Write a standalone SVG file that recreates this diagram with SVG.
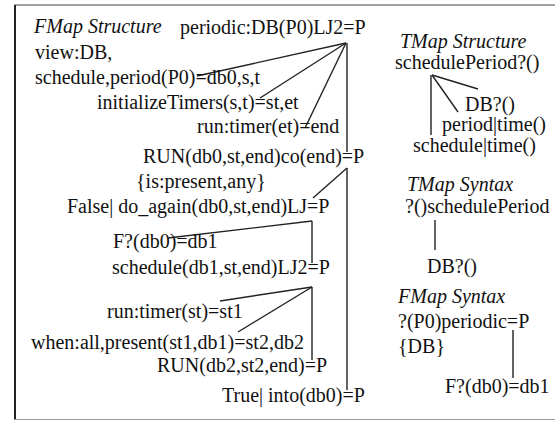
<svg xmlns="http://www.w3.org/2000/svg" width="555" height="421" viewBox="0 0 555 421">
  <style>
    .title { font-style: italic; }
    .link { stroke: #222; stroke-width: 1.4; fill: none; }
  </style>
  <rect x="0" y="0" width="555" height="421" fill="#fff"/>

  <!-- frame -->
  <g id="frame">
    <line x1="14.5" y1="5" x2="555" y2="5" stroke="#444" stroke-width="1.2"/>
    <line x1="15" y1="5" x2="15" y2="419.5" stroke="#222" stroke-width="2"/>
    <line x1="14.5" y1="419.5" x2="555" y2="419.5" stroke="#999" stroke-width="1.2"/>
  </g>

  <!-- connectors -->
  <g id="connectors">
    <!-- FMap structure tree -->
    <path class="link" d="M346 43 L197 76"/>
    <path class="link" d="M346 43 L260 98"/>
    <path class="link" d="M346 43 L305 128"/>
    <path class="link" d="M347 43 L347 152"/>
    <path class="link" d="M347 168 L313 198"/>
    <path class="link" d="M347 168 L347 390"/>
    <path class="link" d="M312 221 L168 238"/>
    <path class="link" d="M312 221 L312 263"/>
    <path class="link" d="M312 287 L220 301"/>
    <path class="link" d="M312 287 L238 332"/>
    <path class="link" d="M312 287 L312 360"/>
    <!-- TMap structure tree -->
    <path class="link" d="M432 75 L478 89"/>
    <path class="link" d="M432 75 L458 112"/>
    <path class="link" d="M431 75 L431 135"/>
    <!-- TMap syntax -->
    <path class="link" d="M435 220 L435 250"/>
    <!-- FMap syntax -->
    <path class="link" d="M513 330 L513 378"/>
  </g>

  <g font-family="'Liberation Serif', 'Times New Roman', Times, serif" font-size="20" fill="#111">
  <!-- FMap structure -->
  <g id="fmap-structure-title"><text class="title" x="34" y="33">FMap Structure</text></g>
  <g id="n-periodic"><text x="180" y="34">periodic:DB(P0)LJ2=P</text></g>
  <g id="n-view"><text x="35" y="59">view:DB,</text>
    <text x="35" y="84">schedule,period(P0)=db0,s,t</text></g>
  <g id="n-init"><text x="97" y="109">initializeTimers(s,t)=st,et</text></g>
  <g id="n-run-timer-et"><text x="197" y="133">run:timer(et)=end</text></g>
  <g id="n-run-db0"><text x="143" y="163">RUN(db0,st,end)co(end)=P</text></g>
  <g id="n-is-present"><text x="136" y="188">{is:present,any}</text></g>
  <g id="n-do-again"><text x="67" y="213">False| do_again(db0,st,end)LJ=P</text></g>
  <g id="n-f-db0"><text x="113" y="248">F?(db0)=db1</text></g>
  <g id="n-schedule-db1"><text x="112" y="274">schedule(db1,st,end)LJ2=P</text></g>
  <g id="n-run-timer-st"><text x="107" y="318">run:timer(st)=st1</text></g>
  <g id="n-when"><text x="31" y="349">when:all,present(st1,db1)=st2,db2</text></g>
  <g id="n-run-db2"><text x="157" y="372">RUN(db2,st2,end)=P</text></g>
  <g id="n-into"><text x="222" y="402">True| into(db0)=P</text></g>

  <!-- TMap structure -->
  <g id="tmap-structure-title"><text class="title" x="400" y="48">TMap Structure</text></g>
  <g id="t-schedule-period"><text x="395" y="69">schedulePeriod?()</text></g>
  <g id="t-db"><text x="465" y="111">DB?()</text></g>
  <g id="t-period-time"><text x="442" y="131">period|time()</text></g>
  <g id="t-schedule-time"><text x="413" y="152">schedule|time()</text></g>

  <!-- TMap syntax -->
  <g id="tmap-syntax-title"><text class="title" x="407" y="191">TMap Syntax</text></g>
  <g id="ts-schedule-period"><text x="405" y="213">?()schedulePeriod</text></g>
  <g id="ts-db"><text x="427" y="273">DB?()</text></g>

  <!-- FMap syntax -->
  <g id="fmap-syntax-title"><text class="title" x="398" y="303">FMap Syntax</text></g>
  <g id="fs-periodic"><text x="398" y="328">?(P0)periodic=P</text>
    <text x="398" y="353">{DB}</text></g>
  <g id="fs-f-db0"><text x="445" y="393">F?(db0)=db1</text></g>
  </g>
</svg>
